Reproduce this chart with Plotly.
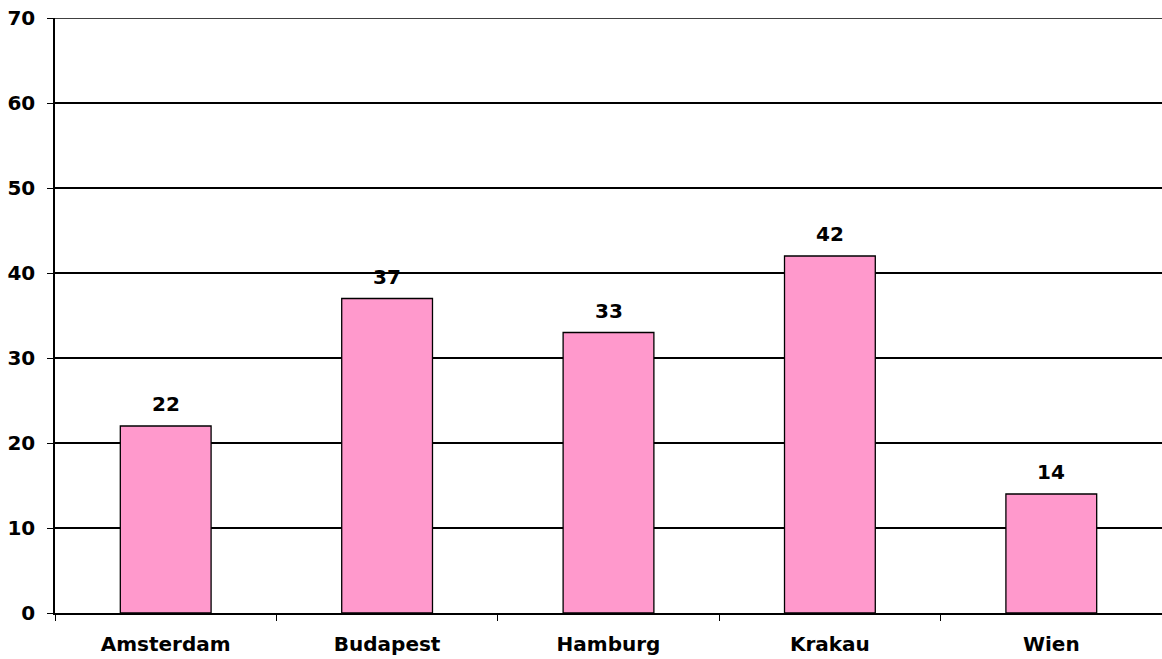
import plotly.graph_objects as go

# Daten
staedte = ['Amsterdam', 'Budapest', 'Hamburg', 'Krakau', 'Wien']
werte = [22, 37, 33, 42, 14]

schrift = dict(family='DejaVu Sans', size=20, color='black', weight='bold')

fig = go.Figure()

# Balken
fig.add_trace(go.Bar(
    x=staedte,
    y=werte,
    width=0.41,
    marker=dict(color='#FF99CC', line=dict(color='black', width=1.3)),
    hoverinfo='x+y',
))

# Beschriftungen über den Balken
for s, w in zip(staedte, werte):
    fig.add_annotation(
        x=s, y=w, text='<b>{}</b>'.format(w), showarrow=False,
        yanchor='bottom', yshift=8,
        font=schrift,
    )

# Oberste Gitterlinie (bei 70) fehlt sonst am Rand
fig.add_shape(type='line', xref='paper', yref='y', x0=0, x1=1, y0=70, y1=70,
              line=dict(color='black', width=1.5))

fig.update_xaxes(
    showline=True, linecolor='black', linewidth=1.5,
    ticks='outside', tickson='boundaries', ticklen=6,
    tickcolor='black', tickwidth=1,
    ticklabelstandoff=12,
    tickfont=schrift,
    showgrid=False, automargin=False,
)
fig.update_yaxes(
    range=[0, 70], dtick=10,
    showline=True, linecolor='black', linewidth=1.5,
    ticks='outside', ticklen=6, tickcolor='black',
    ticklabelstandoff=8,
    showgrid=True, gridcolor='black', gridwidth=1.5,
    zeroline=False, automargin=False,
    tickfont=schrift,
)

fig.update_layout(
    width=1162, height=659,
    margin=dict(l=55, r=0, t=18, b=46),
    plot_bgcolor='white', paper_bgcolor='white',
    font=schrift,
    showlegend=False,
    bargap=0.59,
)

# Seitenrand des Browsers entfernen, damit die Grafik genau ins Fenster passt
fig.write_html(
    'out.html',
    config={'displayModeBar': False},
    post_script="document.body.style.margin='0';document.body.style.overflow='hidden';",
)
